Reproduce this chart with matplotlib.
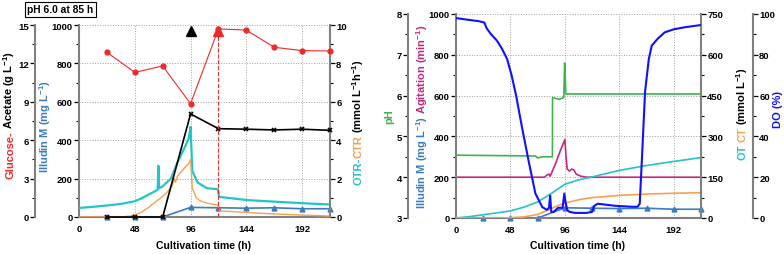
import matplotlib
matplotlib.use("Agg")
import matplotlib.pyplot as plt
import matplotlib.transforms as mtransforms
from matplotlib.ticker import MultipleLocator

plt.rcParams['font.family'] = ['Liberation Sans', 'DejaVu Sans']
plt.rcParams['font.weight'] = 'bold'
plt.rcParams['mathtext.fontset'] = 'custom'
plt.rcParams['mathtext.rm'] = 'Liberation Sans:bold'
plt.rcParams['mathtext.it'] = 'Liberation Sans:bold'
plt.rcParams['mathtext.bf'] = 'Liberation Sans:bold'
plt.rcParams['mathtext.default'] = 'bf'

# ---- data: offline samples (h)
t_samp = [24, 48, 72, 96, 120, 144, 168, 192, 216]
glucose = [12.87, 11.3, 11.8, 8.85, 14.7, 14.6, 13.26, 13.0, 12.97]   # g/L
acetate = [0, 0, 0, 8.05, 6.9, 6.86, 6.8, 6.86, 6.77]                # g/L
illudin = [0, 0, 0, 50, 48, 46, 48, 43, 43]                          # mg/L
event_t = [96, 120]
event_y = [14.55, 14.5]
event_c = ['black', '#ee2a2a']

# online OTR / CTR, left panel (mmol L-1 h-1)
otr_t = [0, 12, 24, 36, 48, 53, 61, 67.8, 68.2, 68.6, 68.9, 72, 79, 84.5, 90, 94.5,
         96, 97.5, 102, 110, 119.5, 120.5, 145, 168, 192, 216]
otr_v = [0.47, 0.53, 0.6, 0.68, 0.82, 0.95, 1.2, 1.42, 2.67, 2.6, 1.5, 1.6, 2.0, 2.8, 3.5, 4.1,
         4.7, 2.4, 1.8, 1.5, 1.45, 1.05, 0.88, 0.8, 0.72, 0.65]
ctr_t = [0, 36, 44, 48, 53, 60, 66, 70, 76, 80, 82, 83, 85, 87, 90, 94.5, 96, 97.5,
         101, 104, 110, 119.5, 120.5, 144, 160, 192, 216]
ctr_v = [0, 0, 0.05, 0.12, 0.22, 0.5, 0.8, 0.97, 1.3, 1.6, 2.0, 1.8, 2.15, 2.3, 2.5, 2.8, 3.0, 1.5,
         1.0, 0.85, 0.72, 0.62, 0.32, 0.24, 0.18, 0.1, 0.05]

# right panel online data
ph_t = [0, 70, 72, 76, 85, 85.1, 88, 91, 95, 95.8, 96.3, 96.8, 97.2, 216]
ph_v = [4.54, 4.52, 4.47, 4.5, 4.5, 5.95, 5.93, 5.91, 5.95, 6.8, 6.5, 6.04, 6.04, 6.04]
agit_t = [0, 78, 80, 82, 83, 85, 88, 92, 96, 97, 98, 100, 102, 104, 106, 110, 115, 216]
agit_v = [200, 200, 210, 215, 205, 230, 270, 330, 385, 300, 240, 230, 240, 235, 215, 205, 200, 200]
ot_t = [0, 12, 24, 36, 48, 60, 72, 84, 96, 108, 120, 144, 168, 192, 216]
ot_v = [0, 5, 12, 19, 26, 40, 59, 90, 124, 140, 151, 175, 193, 208, 222]     # mmol/L
ct_t = [0, 40, 48, 60, 72, 84, 90, 96, 108, 120, 144, 168, 192, 216]
ct_v = [0, 0, 1, 4, 13, 34, 46, 55, 67, 75, 83, 88, 91, 93]
do_t = [0, 10, 20, 25, 27, 31, 36, 40.5, 45, 49, 53, 58, 64, 70, 76, 80, 82, 83, 84, 86, 90,
        94, 95.5, 96.5, 98, 100, 105, 110, 115, 120, 122, 125, 140, 155, 160, 162, 164,
        166.7, 170, 172.6, 178, 184, 192, 201.7, 216]
do_v = [98, 97.2, 96.5, 95.8, 93, 90, 87, 83, 78, 70, 60, 45, 28, 12, 5.4, 4, 5, 11, 3, 3, 5,
        5, 12, 8, 4, 3, 2.5, 2.5, 2.5, 3, 6, 7, 6, 5.5, 5.5, 7, 30,
        62, 78, 84.5, 88, 91, 92.5, 93.5, 94.6]

RED = '#ee2a2a'
BLUE_IM = '#3a7cc0'
CYAN = '#22c4c8'
ORANGE = '#f9a04e'
GREEN = '#3cb44a'
MAGENTA = '#c4287c'
DOBLUE = '#1010ff'
GREY = '#808080'

fig = plt.figure(figsize=(7.84, 2.55), dpi=100)


def style_y(ax, side, outward=0, major=None, minor=None):
    for s in ax.spines.values():
        s.set_visible(False)
    sp = ax.spines[side]
    sp.set_visible(True)
    sp.set_color(GREY)
    sp.set_linewidth(1.5)
    sp.set_position(('outward', outward))
    ax.yaxis.set_ticks_position(side)
    ax.yaxis.set_label_position(side)
    if major is not None:
        ax.yaxis.set_major_locator(MultipleLocator(major))
        ax.yaxis.set_minor_locator(MultipleLocator(minor))
    ax.tick_params(axis='y', which='major', direction='out', length=3.5, width=0.9,
                   labelsize=6.8, pad=1)
    ax.tick_params(axis='y', which='minor', direction='out', length=2, width=0.8)


def main_axes(ax):
    style_y(ax, 'left', 0, 200, 100)
    ax.spines['bottom'].set_visible(True)
    ax.spines['bottom'].set_color(GREY)
    ax.spines['bottom'].set_linewidth(1.5)
    ax.set_xlim(0, 216)
    ax.set_ylim(0, 1000)
    ax.set_xticks([0, 48, 96, 144, 192])
    ax.tick_params(axis='x', length=0, labelsize=6.8, pad=5)
    ax.grid(True, which='major', linestyle=':', color='#a0a0a0', lw=0.7)


# ---------------- left panel
ax1 = fig.add_axes([79 / 784, 37 / 255, 251 / 784, 192 / 255])
axo = ax1.twinx()
axg = ax1.twinx()
main_axes(ax1)
style_y(axo, 'right', 0, 2, 1)
style_y(axg, 'left', 31.7, 3, 1.5)
axo.set_ylim(0, 10)
axg.set_ylim(0, 15)

ax1.plot(t_samp, illudin, '-^', color=BLUE_IM, lw=1.2, ms=3.5, clip_on=False)
axo.plot(otr_t, otr_v, '-', color=CYAN, lw=1.6)
axo.plot(ctr_t, ctr_v, '-', color=ORANGE, lw=1.0)
axg.plot(t_samp, acetate, '-x', color='black', lw=1.2, ms=3.5, mew=1.2, clip_on=False)
axg.plot(t_samp, glucose, '-o', color=RED, lw=0.8, ms=3.5, clip_on=False)
axg.plot([120, 120], [0, 14.6], '--', color=RED, lw=0.8)
for t, y, c in zip(event_t, event_y, event_c):
    axg.plot(t, y, '^', color=c, ms=7, clip_on=False)

# ---------------- right panel
ax2 = fig.add_axes([456 / 784, 36 / 255, 245 / 784, 204 / 255])
axc = ax2.twinx()
axp = ax2.twinx()
axd = ax2.twinx()
main_axes(ax2)
style_y(axc, 'right', 0, 150, 75)
style_y(axp, 'left', 34.6, 1, 0.5)
style_y(axd, 'right', 37.4, 20, 10)
axc.set_ylim(0, 750)
axp.set_ylim(3, 8)
axd.set_ylim(0, 100)

ax2.plot(t_samp, illudin, '-^', color=BLUE_IM, lw=1.2, ms=3.5, clip_on=False)
ax2.plot(agit_t, agit_v, '-', color=MAGENTA, lw=1.2)
axc.plot(ot_t, ot_v, '-', color=CYAN, lw=1.2)
axc.plot(ct_t, ct_v, '-', color=ORANGE, lw=1.2)
axp.plot(ph_t, ph_v, '-', color=GREEN, lw=1.2)
axd.plot(do_t, do_v, '-', color=DOBLUE, lw=1.5)

# ---------------- texts
tr = mtransforms.IdentityTransform()
H = 255


def vlabel(xb, yc, parts, size=8):
    r = fig.canvas.get_renderer()
    items = []
    total = 0
    for s, c, gap in parts:
        t = fig.text(0, 0, s, color=c, fontsize=size, fontweight='bold', rotation=90,
                     rotation_mode='anchor', ha='left', va='baseline', transform=tr)
        h = t.get_window_extent(r).height
        items.append((t, h, gap))
        total += h + gap
    y = (H - yc) - total / 2
    for t, h, gap in items:
        t.set_position((xb, y))
        y += h + gap


vlabel(13, 115, [("Glucose-", RED, 2.5), ("Acetate (g L$^{-1}$)", 'black', 0)])
vlabel(49, 127, [("Illudin M (mg L$^{-1}$)", BLUE_IM, 0)])
vlabel(362, 122, [("OTR-", CYAN, 0), ("CTR", ORANGE, 2.5),
                  ("(mmol L$^{-1}$h$^{-1}$)", 'black', 0)])
vlabel(392, 117, [("pH", GREEN, 0)])
vlabel(426, 117, [("Illudin M (mg L$^{-1}$)", BLUE_IM, 2.5),
                  ("Agitation (min$^{-1}$)", MAGENTA, 0)])
vlabel(746, 114, [("OT", CYAN, 2.5), ("CT", ORANGE, 2.5), ("(mmol L$^{-1}$)", 'black', 0)])
vlabel(781, 110, [("DO (%)", DOBLUE, 0)])

fig.text(204, H - 246, "Cultivation time (h)", fontsize=7.6, fontweight='bold',
         ha='center', va='center', transform=tr)
fig.text(578, H - 246, "Cultivation time (h)", fontsize=7.6, fontweight='bold',
         ha='center', va='center', transform=tr)
fig.text(60.5, H - 10.5, "pH 6.0 at 85 h", fontsize=7.4, fontweight='bold',
         ha='center', va='center', transform=tr,
         bbox=dict(boxstyle='square,pad=0.25', fc='white', ec='black', lw=0.8))

fig.savefig('out.png', dpi=100)
